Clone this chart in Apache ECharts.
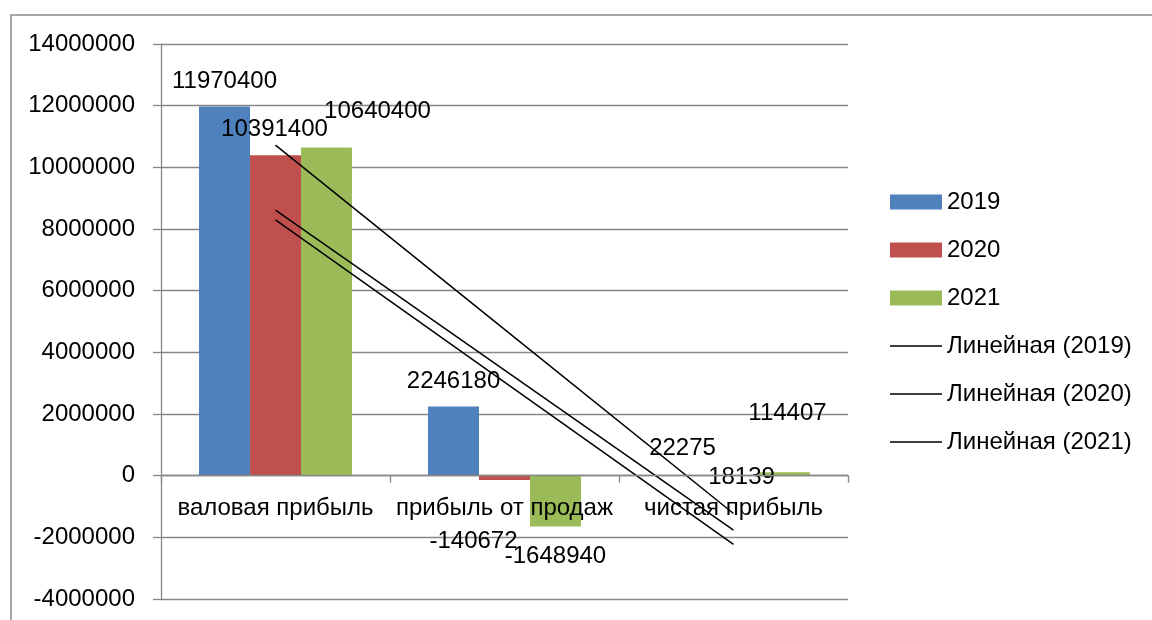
<!DOCTYPE html>
<html>
<head>
<meta charset="utf-8">
<title>Прибыль 2019–2021</title>
<script src="https://cdn.jsdelivr.net/npm/echarts@6/dist/echarts.min.js"></script>
<style>
  html, body { margin: 0; padding: 0; background: #fff; }
  #chart { width: 1152px; height: 620px; }
</style>
</head>
<body>
<div id="chart"></div>
<script>
// Profit indicators by year
const categories = ['валовая прибыль', 'прибыль от продаж', 'чистая прибыль'];
const years = ['2019', '2020', '2021'];
const values2019 = [11970400, 2246180, 22275];
const values2020 = [10391400, -140672, 18139];
const values2021 = [10640400, -1648940, 114407];
const yTicks = { min: -4000000, max: 14000000, step: 2000000 };

// Manually placed value labels: pixel shift from the bar's centre
const labelShift2019 = [[0, -210], [0, -60], [0, -27]];
const labelShift2020 = [[-1, -186], [-31, 64], [8, 2]];
const labelShift2021 = [[51, -200], [0, 55], [3, -61]];

const colors = ['#4F81BD', '#C0504D', '#9BBB59'];
const FONT = 'Liberation Sans';
const FS = 24;
const GRID = { left: 161, top: 44, width: 687, height: 555 };

// Least-squares linear trend over category positions 1..n
function linearTrend(vals) {
  const n = vals.length;
  const xs = vals.map((_, i) => i + 1);
  const mx = xs.reduce((a, b) => a + b, 0) / n;
  const my = vals.reduce((a, b) => a + b, 0) / n;
  let sxy = 0, sxx = 0;
  for (let i = 0; i < n; i++) {
    sxy += (xs[i] - mx) * (vals[i] - my);
    sxx += (xs[i] - mx) * (xs[i] - mx);
  }
  const k = sxy / sxx;
  return xs.map(x => my + k * (x - mx));
}

function barSeries(name, vals, shifts, color) {
  return {
    name: name,
    type: 'bar',
    barGap: '0%',
    barCategoryGap: '33.2%',
    itemStyle: { color: color },
    z: 2,
    data: vals.map((v, i) => ({
      value: v,
      label: { offset: shifts[i] }
    })),
    label: {
      show: true,
      position: 'inside',
      color: '#000',
      fontFamily: FONT,
      fontSize: FS,
      formatter: p => String(p.value)
    }
  };
}

function trendSeries(name, vals) {
  return {
    name: name,
    type: 'line',
    data: linearTrend(vals),
    symbol: 'none',
    silent: true,
    z: 3,
    lineStyle: { color: '#000', width: 1.5 },
    itemStyle: { color: '#000' }
  };
}

const trendNames = years.map(y => 'Линейная (' + y + ')');
// plain horizontal stroke used as the legend mark of a trend line
const lineIcon = 'path://M0,0H104V3H0Z';

// distance of the zero line above the bottom of the plot
const zeroLift = GRID.height * (0 - yTicks.min) / (yTicks.max - yTicks.min);

const chart = echarts.init(document.getElementById('chart'), null, { renderer: 'canvas' });
chart.setOption({
  animation: false,
  backgroundColor: '#fff',
  textStyle: { fontFamily: FONT },
  graphic: [{
    type: 'rect',
    shape: { x: 11, y: 15, width: 1300, height: 800 },
    style: { fill: 'none', stroke: '#8a8a8a', lineWidth: 1.5 },
    silent: true,
    z: -10
  }],
  grid: Object.assign({ containLabel: false, outerBoundsMode: 'none' }, GRID),
  legend: {
    orient: 'vertical',
    left: 885,
    top: 185,
    itemWidth: 52,
    itemHeight: 15,
    itemGap: 24,
    symbolKeepAspect: true,
    textStyle: { color: '#000', fontFamily: FONT, fontSize: FS },
    data: [
      { name: years[0], icon: 'rect' },
      { name: years[1], icon: 'rect' },
      { name: years[2], icon: 'rect' },
      { name: trendNames[0], icon: lineIcon },
      { name: trendNames[1], icon: lineIcon },
      { name: trendNames[2], icon: lineIcon }
    ]
  },
  xAxis: {
    type: 'category',
    data: categories,
    position: 'bottom',
    offset: -zeroLift,
    z: 10,
    axisLine: { onZero: false, lineStyle: { color: '#878787', width: 1.3 } },
    axisTick: { show: true, length: 7, lineStyle: { color: '#878787', width: 1.3 } },
    axisLabel: { color: '#000', fontFamily: FONT, fontSize: FS, margin: 21, interval: 0 },
    splitLine: { show: false }
  },
  yAxis: {
    type: 'value',
    min: yTicks.min,
    max: yTicks.max,
    interval: yTicks.step,
    axisLine: { show: true, lineStyle: { color: '#878787', width: 1.3 } },
    axisTick: { show: true, length: 8, lineStyle: { color: '#878787', width: 1.3 } },
    axisLabel: { color: '#000', fontFamily: FONT, fontSize: FS, margin: 26, formatter: v => String(v) },
    splitLine: { show: true, lineStyle: { color: '#878787', width: 1.3 } }
  },
  series: [
    barSeries(years[0], values2019, labelShift2019, colors[0]),
    barSeries(years[1], values2020, labelShift2020, colors[1]),
    barSeries(years[2], values2021, labelShift2021, colors[2]),
    trendSeries(trendNames[0], values2019),
    trendSeries(trendNames[1], values2020),
    trendSeries(trendNames[2], values2021)
  ]
});
</script>
</body>
</html>
